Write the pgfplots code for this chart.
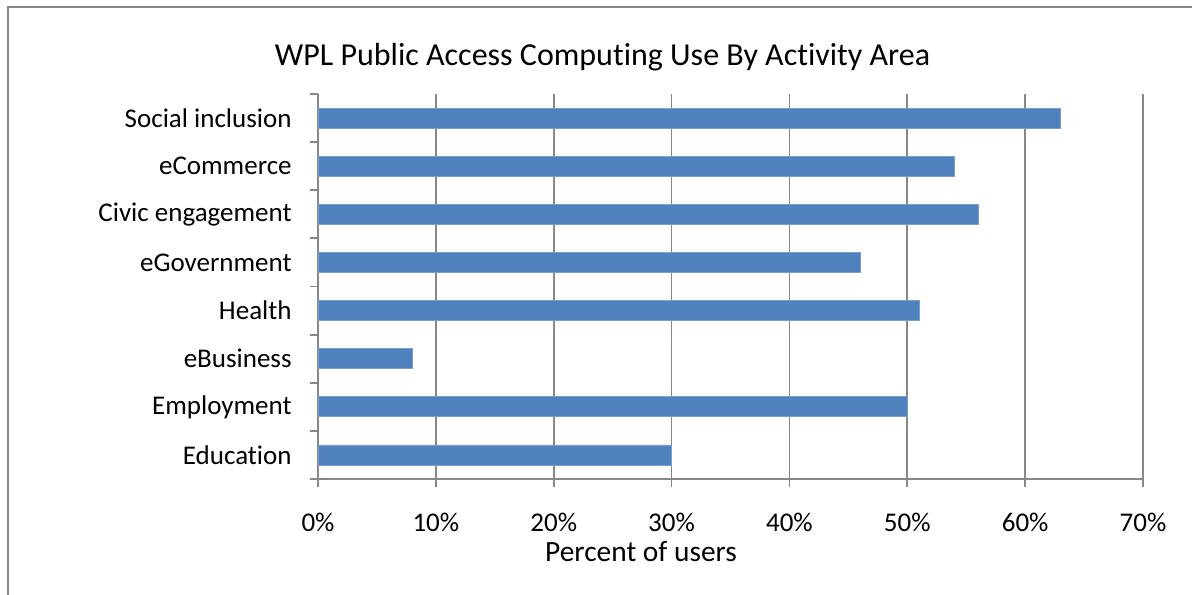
\documentclass[border=0pt]{standalone}
\usepackage{pgfplots}
\pgfplotsset{compat=1.18}
\usepackage{fontspec}
\setmainfont{Carlito}[Ligatures={NoCommon,NoRequired,NoContextual}]
\definecolor{barblue}{HTML}{4F81BD}
\definecolor{baredge}{HTML}{7A9FCE}
\definecolor{axgray}{HTML}{878787}
\begin{document}
\begin{tikzpicture}[x=0.5pt,y=0.5pt]
\useasboundingbox (0,0) rectangle (1192,594);
\draw[axgray, line width=1pt] (8,-30) rectangle (1230,587);
\begin{axis}[
  at={(159pt,57.5pt)}, anchor=south west,
  width=412.5pt, height=192.5pt, scale only axis,
  xbar, bar width=10pt,
  xmin=0, xmax=70, ymin=-0.5, ymax=7.5,
  axis x line=bottom, axis y line=left,
  axis line style={-, draw=axgray, line width=1pt},
  xtick={0,10,...,70},
  xticklabel={\pgfmathprintnumber{\tick}\%},
  /pgf/number format/assume math mode=true,
  xmajorgrids=true,
  grid style={axgray, line width=0.9pt},
  tick align=outside,
  major tick length=4pt,
  tick style={axgray, line width=0.9pt},
  ytick={-0.5,0.5,...,7.5},
  yticklabels={},
  extra y ticks={0,1,2,3,4,5,6,7},
  extra y tick labels={Educat\kern0pt ion,Employment,eBusiness,Health,eGovernment,Civic engagement,eCommerce,Social inclusion},
  extra y tick style={major tick length=0pt, grid=none},
  yticklabel style={font=\fontsize{13.5}{16}\selectfont, inner sep=0pt, xshift=-13pt},
  xticklabel style={font=\fontsize{13.5}{16}\selectfont, inner sep=0pt, yshift=-13pt},
  clip=false,
]
\addplot[fill=barblue, draw=baredge, line width=0.4pt] coordinates {
 (30,0) (50,1) (8,2) (51,3) (46,4) (56,5) (54,6) (63,7)
};
\end{axis}
\node[font=\fontsize{16}{19}\selectfont] at (602.5,537) {WPL Public Access Comput\kern0pt ing Use By Activ\kern0pt it\kern0pt y Area};
\node[font=\fontsize{14.7}{17}\selectfont] at (641,42) {Percent of users};
\end{tikzpicture}
\end{document}
